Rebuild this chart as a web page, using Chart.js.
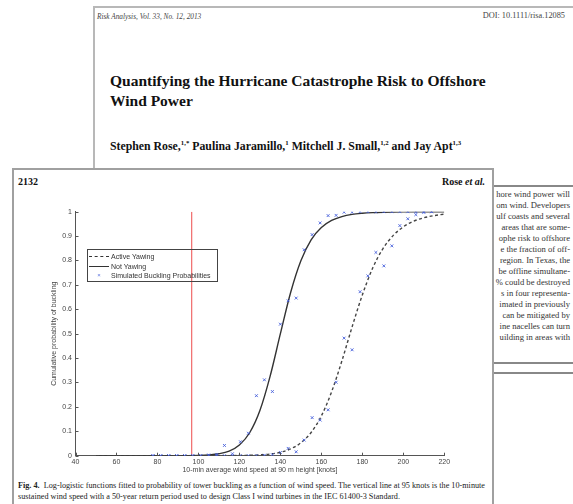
<!DOCTYPE html>
<html>
<head>
<meta charset="utf-8">
<script src="https://cdn.jsdelivr.net/npm/chart.js@4.4.0/dist/chart.umd.min.js"></script>
<style>
  html, body { margin: 0; padding: 0; background: #fff; }
  body { width: 573px; height: 504px; position: relative; overflow: hidden; font-family: "Liberation Serif", serif; color: #222; }
  .abs { position: absolute; white-space: nowrap; }
  #backPage { position: absolute; left: 93px; top: 6px; width: 600px; height: 600px; border-left: 2px solid #b8b8b8; border-top: 2px solid #b8b8b8; }
  #runHead { left: 97px; top: 12px; font-size: 7.3px; font-style: italic; color: #444; }
  #doi { right: 8px; top: 11px; font-size: 8.3px; color: #444; }
  #title { left: 110px; top: 71px; font-size: 15.5px; font-weight: bold; line-height: 20px; color: #111; }
  #authors { left: 110px; top: 139px; font-size: 11.8px; font-weight: bold; color: #111; }
  #authors sup { font-size: 6.8px; }
  #column { position: absolute; left: 380px; top: 189px; width: 190px; text-align: right; font-size: 8.6px; line-height: 11px; color: #333; }
  #column div { white-space: nowrap; height: 11px; }
  .rule { position: absolute; left: 480px; width: 120px; height: 2px; background: #888; }
  #frontPage { position: absolute; left: 12px; top: 168px; width: 478px; height: 400px; background: #fff; border: 2px solid #a0a0a0; }
  #pageNo { left: 18px; top: 176px; font-size: 10px; font-weight: bold; color: #111; }
  #runAuthor { right: 88px; top: 176px; font-size: 10px; font-weight: bold; color: #111; }
  #caption { position: absolute; left: 18px; top: 480px; width: 467px; font-size: 8.2px; line-height: 11px; color: #222; }
  #caption div { white-space: nowrap; }
  #caption .just { text-align: justify; text-align-last: justify; }
  #chartBox { position: absolute; left: 14px; top: 190px; width: 470px; height: 286px; }
  #legend { position: absolute; left: 87px; top: 249px; width: 129px; height: 31px; border: 1px solid #444; font-family: "Liberation Sans", sans-serif; font-size: 7px; color: #333; }
  .row { position: absolute; left: 0; height: 9px; line-height: 9px; }
  .sample { position: absolute; left: 1px; top: 4px; width: 20px; height: 0; }
  .label { position: absolute; left: 23px; top: 0; white-space: nowrap; }
</style>
</head>
<body>
<div id="backPage"></div>
<div class="abs" id="runHead">Risk Analysis, Vol. 33, No. 12, 2013</div>
<div class="abs" id="doi">DOI: 10.1111/risa.12085</div>
<div class="abs" id="title">Quantifying the Hurricane Catastrophe Risk to Offshore<br>Wind Power</div>
<div class="abs" id="authors">Stephen Rose,<sup>1,*</sup> Paulina Jaramillo,<sup>1</sup> Mitchell J. Small,<sup>1,2</sup> and Jay Apt<sup>1,3</sup></div>
<div class="rule" style="top:185px"></div>
<div id="column"></div>
<div class="rule" style="top:362px"></div>
<div class="rule" style="top:372px"></div>

<div id="frontPage"></div>
<div class="abs" id="pageNo">2132</div>
<div class="abs" id="runAuthor">Rose <i>et al.</i></div>
<div id="chartBox"><canvas id="chart"></canvas></div>
<div id="legend"></div>
<div id="caption">
  <div class="just"><b>Fig. 4.</b>&nbsp; Log-logistic functions fitted to probability of tower buckling as a function of wind speed. The vertical line at 95 knots is the 10-minute</div>
  <div>sustained wind speed with a 50-year return period used to design Class I wind turbines in the IEC 61400-3 Standard.</div>
</div>

<script>
// text of the page behind the figure (only the visible right-hand slice)
const columnLines = [
  'hore wind power will', 'om wind. Developers', 'ulf coasts and several', 'areas that are some-',
  'ophe risk to offshore', 'e the fraction of off-', 'region. In Texas, the', 'be offline simultane-',
  '% could be destroyed', 's in four representa-', 'imated in previously', 'can be mitigated by',
  'ine nacelles can turn', 'uilding in areas with'
]
document.getElementById('column').innerHTML = columnLines.map(l => '<div>' + l + '</div>').join('')

// fitted log-logistic curves (knots -> cumulative probability)
const curveSpeeds = [50, 55, 60, 65, 70, 75, 80, 85, 90, 95, 100, 105, 110, 115, 120, 125, 130, 135, 140,
  145, 150, 155, 160, 165, 170, 175, 180, 185, 190, 195, 200, 205, 210, 215, 220]
const activeYawing = [0, 0, 0, 0, 0, 0, 0, 0, 0, 0, 0, 0, 0, 0.0003, 0.0007, 0.0016, 0.0034, 0.007, 0.014,
  0.028, 0.053, 0.095, 0.163, 0.262, 0.388, 0.528, 0.659, 0.768, 0.848, 0.902, 0.938, 0.961, 0.975, 0.984, 0.99]
const notYawing = [0, 0, 0, 0, 0, 0, 0, 0, 0.0002, 0.0004, 0.0012, 0.0032, 0.008, 0.019, 0.044, 0.094, 0.185, 0.326, 0.5,
  0.669, 0.799, 0.885, 0.935, 0.964, 0.98, 0.989, 0.9935, 0.9962, 0.9978, 0.9987, 0.9992, 0.9995, 0.9997, 0.9998, 0.9999]

// simulated buckling probabilities
const simSpeeds = [77.8, 81.6, 85.5, 89.4, 93.3, 97.2, 101.1, 105.0, 108.9, 112.7, 116.6, 120.5, 124.4, 128.3,
  132.2, 136.1, 140.0, 143.8, 147.7, 151.6, 155.5, 159.4, 163.3, 167.2, 171.1, 175.0, 178.9, 182.7, 186.6,
  190.5, 194.4, 198.3, 202.2, 206.1, 210.0, 213.8]
const simNotYawing = [0, 0, 0, 0, 0, 0, 0, 0.003, 0.005, 0.042, 0.008, 0.057, 0.092, 0.246,
  0.311, 0.263, 0.539, 0.635, 0.646, 0.844, 0.906, 0.954, 0.984, 0.985, 0.998, 0.998, 1, 1, 1,
  1, 1, 1, 1, 1, 1, 1]
const simActive = [0, 0, 0, 0, 0, 0, 0, 0, 0, 0, 0, 0, 0, 0,
  0.002, 0.004, 0.013, 0.03, 0.016, 0.064, 0.156, 0.146, 0.188, 0.301, 0.482, 0.434, 0.672, 0.737, 0.833,
  0.778, 0.86, 0.943, 0.971, 0.988, 0.997, 1.0]

// design wind speed line
const designSpeed = [96.7, 96.7]
const designProb = [0, 1]

const xTicks = [40, 60, 80, 100, 120, 140, 160, 180, 200, 220]
const yTicks = [0, 0.1, 0.2, 0.3, 0.4, 0.5, 0.6, 0.7, 0.8, 0.9, 1]
const legendLabels = ['Active Yawing', 'Not Yawing', 'Simulated Buckling Probabilities']

const pts = (xs, ys) => xs.map((x, i) => ({ x: x, y: ys[i] }))

const markerColor = 'rgba(70, 95, 220, 0.9)'

// legend drawn as html over the plot
const legendEl = document.getElementById('legend')
const samples = [
  '<div class="sample" style="border-top:1.2px dashed #333"></div>',
  '<div class="sample" style="border-top:1.2px solid #333"></div>',
  '<div class="sample" style="text-align:center;top:0;height:9px;color:' + markerColor + ';font-size:6px;line-height:8px">&times;</div>'
]
legendLabels.forEach((lab, i) => {
  legendEl.innerHTML += '<div class="row" style="top:' + (2 + i * 9.5) + 'px;width:100%">' + samples[i] +
    '<div class="label">' + lab + '</div></div>'
})

// matlab style tick marks pointing into the plot
const innerTicks = {
  id: 'innerTicks',
  afterDraw(chart) {
    const ctx = chart.ctx
    const xs = chart.scales.x
    const ys = chart.scales.y
    ctx.save()
    ctx.strokeStyle = '#555'
    ctx.lineWidth = 1
    ctx.beginPath()
    xTicks.forEach(v => {
      const px = Math.round(xs.getPixelForValue(v)) + 0.5
      ctx.moveTo(px, ys.bottom)
      ctx.lineTo(px, ys.bottom - 3)
    })
    yTicks.forEach(v => {
      const py = Math.round(ys.getPixelForValue(v)) + 0.5
      ctx.moveTo(xs.left, py)
      ctx.lineTo(xs.left + 3, py)
    })
    ctx.stroke()
    ctx.restore()
  }
}

const tickFont = { family: 'Liberation Sans', size: 7 }

new Chart(document.getElementById('chart'), {
  type: 'line',
  data: {
    datasets: [
      {
        label: 'design',
        data: pts(designSpeed, designProb),
        borderColor: '#f06a6a',
        borderWidth: 1.2,
        pointRadius: 0,
        order: 5
      },
      {
        label: legendLabels[0],
        data: pts(curveSpeeds, activeYawing),
        borderColor: '#444',
        borderWidth: 1.4,
        borderDash: [3, 2.5],
        pointRadius: 0,
        cubicInterpolationMode: 'monotone',
        order: 2
      },
      {
        label: legendLabels[1],
        data: pts(curveSpeeds, notYawing),
        borderColor: '#333',
        borderWidth: 1.4,
        pointRadius: 0,
        cubicInterpolationMode: 'monotone',
        order: 2
      },
      {
        label: 'sim active',
        data: pts(simSpeeds, simActive),
        showLine: false,
        pointStyle: 'crossRot',
        pointRadius: 2,
        borderWidth: 1,
        borderColor: markerColor,
        order: 1
      },
      {
        label: 'sim not yawing',
        data: pts(simSpeeds, simNotYawing),
        showLine: false,
        pointStyle: 'crossRot',
        pointRadius: 2,
        borderWidth: 1,
        borderColor: markerColor,
        order: 1
      }
    ]
  },
  options: {
    responsive: true,
    maintainAspectRatio: false,
    animation: false,
    layout: { padding: { left: 36, right: 39.7, top: 21.7, bottom: 1 } },
    plugins: { legend: { display: false }, tooltip: { enabled: false } },
    scales: {
      x: {
        type: 'linear',
        min: 40,
        max: 220,
        afterBuildTicks: s => { s.ticks = xTicks.map(v => ({ value: v })) },
        afterFit: s => { s.height = 19.3 },
        grid: { display: true, drawOnChartArea: false, drawTicks: false },
        border: { display: true, color: '#555', width: 1 },
        ticks: { font: tickFont, color: '#444', padding: 2, maxRotation: 0 },
        title: { display: true, text: '10-min average wind speed at 90 m height [knots]', font: tickFont, color: '#444', padding: { top: 0, bottom: 1 } }
      },
      y: {
        type: 'linear',
        min: 0,
        max: 1,
        afterBuildTicks: s => { s.ticks = yTicks.map(v => ({ value: v })) },
        afterFit: s => { s.width = 25.5 },
        grid: { display: true, drawOnChartArea: false, drawTicks: false },
        border: { display: true, color: '#555', width: 1 },
        ticks: { font: tickFont, color: '#444', padding: 3.5, callback: v => String(Math.round(v * 10) / 10) },
        title: { display: true, text: 'Cumulative probability of buckling', font: tickFont, color: '#444', padding: { top: 0, bottom: 0 } }
      }
    }
  },
  plugins: [innerTicks]
})
</script>
</body>
</html>
